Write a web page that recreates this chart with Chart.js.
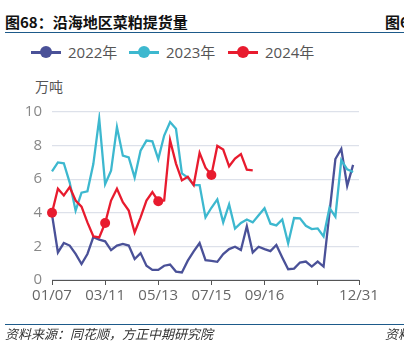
<!DOCTYPE html>
<html>
<head>
<meta charset="utf-8">
<script src="https://cdn.jsdelivr.net/npm/chart.js@4.4.1/dist/chart.umd.min.js"></script>
<style>
  html, body { margin:0; padding:0; background:#fff; }
  body { width:404px; height:356px; position:relative; overflow:hidden; font-family:"Open Sans","Noto Sans CJK SC",sans-serif; }
  .abs { position:absolute; white-space:nowrap; }
  .title { font-family:"Noto Sans CJK SC",sans-serif; font-weight:700; font-size:15px; line-height:15px; color:#111; }
  .rule { position:absolute; height:1.5px; background:#1d5a8a; }
  .foot { font-family:"Noto Sans CJK SC",sans-serif; font-style:italic; font-size:13px; line-height:13px; color:#333; }
  .leg { position:absolute; top:44px; height:16px; width:90px; white-space:nowrap; }
  .leg .ln { position:absolute; top:7px; left:0; width:30px; height:2.5px; }
  .leg .dot { position:absolute; top:2px; left:9px; width:12px; height:12px; border-radius:50%; }
  .leg .tx { position:absolute; left:37px; top:-2px; font-size:15px; line-height:20px; color:#555; white-space:nowrap; font-family:"Open Sans","Noto Sans CJK SC",sans-serif; }
  .unit { font-family:"Noto Sans CJK SC",sans-serif; font-size:14px; line-height:14px; color:#555; }
  canvas { position:absolute; left:0; top:0; }
</style>
</head>
<body>
<div class="abs title" style="left:5px;top:14px;">图68：沿海地区菜粕提货量</div>
<div class="abs title" style="left:385px;top:14px;">图6</div>
<div class="rule" style="left:5px;top:31.5px;width:399px;"></div>

<div id="legend"></div>
<div class="abs unit" style="left:35px;top:79px;">万吨</div>

<canvas id="c" width="404" height="356"></canvas>

<div class="rule" style="left:5px;top:323.5px;width:399px;"></div>
<div class="abs foot" style="left:5px;top:327px;">资料来源：同花顺，方正中期研究院</div>
<div class="abs foot" style="left:385px;top:327px;">资料</div>

<script>
// ---- data ----
const categories = [
  "01/07","01/14","01/21","01/28","02/04","02/11","02/18","02/25","03/04","03/11",
  "03/18","03/25","04/01","04/08","04/15","04/22","04/29","05/06","05/13","05/20",
  "05/27","06/03","06/10","06/17","06/24","07/01","07/08","07/15","07/22","07/29",
  "08/05","08/12","08/19","08/26","09/02","09/09","09/16","09/23","09/30","10/07",
  "10/14","10/21","10/28","11/04","11/11","11/18","11/25","12/02","12/09","12/16",
  "12/23","12/30","12/31"
];
const shownTickLabels = ["01/07","03/11","05/13","07/15","09/16","12/31"];
const blankTickLabels = ["11/18"];
const seriesNames = ["2022年","2023年","2024年"];
const values2022 = [
  3.9, 1.64, 2.2, 2.05, 1.55, 0.95, 1.55, 2.55, 2.4, 2.3,
  1.78, 2.05, 2.15, 2.05, 1.25, 1.6, 0.85, 0.6, 0.6, 0.85,
  0.92, 0.5, 0.45, 1.15, 1.7, 2.2, 1.18, 1.14, 1.08, 1.54,
  1.84, 1.98, 1.78, 3.2, 1.64, 1.98, 1.84, 1.72, 2.08, 1.34,
  0.64, 0.68, 1.04, 1.1, 0.8, 1.1, 0.8, 4.0, 7.2, 7.8,
  5.6, 6.85
];
const values2023 = [
  6.47, 7.0, 6.95, 5.8, 4.13, 5.2, 5.28, 6.9, 9.6, 5.7,
  6.5, 9.1, 7.4, 7.3, 6.1, 7.7, 8.3, 8.25, 7.2, 8.6,
  9.4, 9.0, 6.35, 6.1, 5.65, 5.65, 3.73, 4.3, 4.8, 3.43,
  4.5, 3.06, 3.4, 3.6, 3.43, 3.85, 4.27, 3.35, 3.25, 3.6,
  2.18, 3.69, 3.67, 3.23, 3.03, 3.07, 2.59, 4.29, 3.77, 7.13,
  6.59, 6.43
];
const values2024 = [
  4.0, 5.43, 5.03, 5.53, 4.73, 4.37, 3.43, 2.6, 2.53, 3.39,
  4.73, 5.43, 4.63, 4.13, 2.83, 3.73, 4.73, 5.23, 4.69, 4.73,
  8.32, 6.93, 5.93, 6.15, 5.65, 7.57, 6.68, 6.25, 7.98, 7.76,
  6.77, 7.23, 7.49, 6.57, 6.53
];
const markedIndex2024 = [0, 9, 18, 27];
const yTicks = [0, 2, 4, 6, 8, 10];

// ---- styles ----
const colors = ["#4a5198", "#3db8cf", "#e81b2e"];

// legend (HTML)
const legend = document.getElementById('legend');
const legLeft = [31, 129, 228];
seriesNames.forEach((n, i) => {
  const d = document.createElement('div');
  d.className = 'leg';
  d.style.left = legLeft[i] + 'px';
  d.innerHTML = '<div class="ln" style="background:' + colors[i] + '"></div>' +
                '<div class="dot" style="background:' + colors[i] + '"></div>' +
                '<div class="tx">' + n + '</div>';
  legend.appendChild(d);
});

const ds = (label, data, color, order, radiusFn) => ({
  label, data, borderColor: color, backgroundColor: color,
  borderWidth: 2.3, tension: 0, order,
  pointRadius: radiusFn || 0, pointHoverRadius: 0, pointBorderWidth: 0,
  spanGaps: false
});

new Chart(document.getElementById('c'), {
  type: 'line',
  data: {
    labels: categories,
    datasets: [
      ds(seriesNames[0], values2022, colors[0], 2),
      ds(seriesNames[1], values2023, colors[1], 1),
      ds(seriesNames[2], values2024, colors[2], 0,
         ctx => markedIndex2024.includes(ctx.dataIndex) ? 5 : 0)
    ]
  },
  options: {
    responsive: false,
    animation: false,
    devicePixelRatio: 1,
    layout: { padding: { left: 0, top: 112, right: 45, bottom: 46 } },
    plugins: { legend: { display: false }, tooltip: { enabled: false } },
    scales: {
      x: {
        type: 'category',
        offset: false,
        afterFit: s => { s.height = 30; },
        grid: { drawOnChartArea: false, drawTicks: true, tickLength: 5, color: '#555', lineWidth: 1 },
        border: { display: true, color: '#555', width: 1 },
        ticks: {
          autoSkip: false, maxRotation: 0, minRotation: 0, padding: 2,
          color: '#666',
          font: { family: 'Open Sans', size: 15 },
          callback: function (v, i) {
            const l = categories[i];
            if (shownTickLabels.includes(l)) return l;
            if (blankTickLabels.includes(l)) return '';
            return null;
          }
        }
      },
      y: {
        min: 0, max: 10,
        afterFit: s => { s.width = 52; },
        afterBuildTicks: s => { s.ticks = yTicks.map(v => ({ value: v })); },
        grid: { color: '#dde1ea', lineWidth: 1.2, drawTicks: false },
        border: { display: false },
        ticks: {
          padding: 10, color: '#888',
          font: { family: 'Open Sans', size: 15 }
        }
      }
    }
  }
});
</script>
</body>
</html>
